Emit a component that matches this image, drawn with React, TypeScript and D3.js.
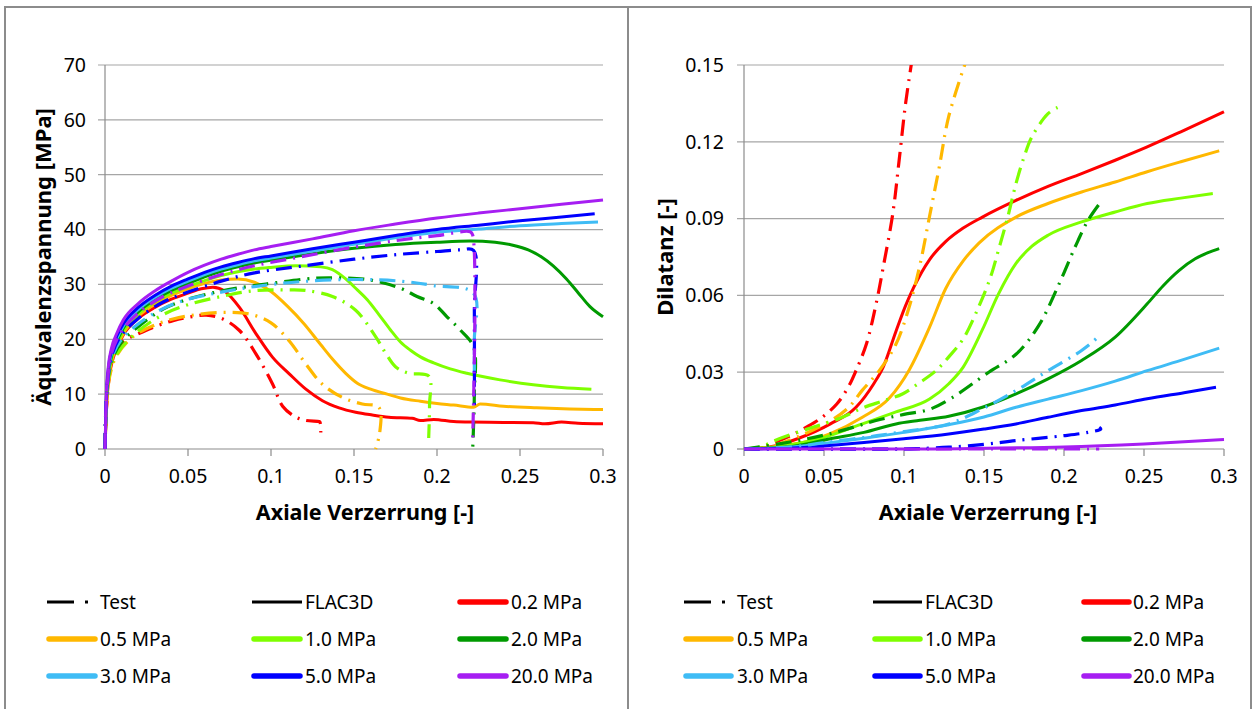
import React from "react";
import * as d3 from "d3";

type P = [number, number];

// ---------- Left chart: Äquivalenzspannung vs axial strain ----------
const stressTicks = [0, 10, 20, 30, 40, 50, 60, 70];
const strainTicks = [0, 0.05, 0.1, 0.15, 0.2, 0.25, 0.3];
const dilTicks = [0, 0.03, 0.06, 0.09, 0.12, 0.15];

const pressures = ["0.2 MPa", "0.5 MPa", "1.0 MPa", "2.0 MPa", "3.0 MPa", "5.0 MPa", "20.0 MPa"];
const colors = ["#FF0000", "#FFB800", "#7FFF00", "#009A00", "#3FBCF5", "#0000FF", "#A61EF2"];

const stressTest02: P[] = [[0,0],[0.001,8],[0.003,14],[0.006,17.5],[0.012,19.8],[0.02,21],[0.03,22.3],[0.041,23.4],[0.05,24],[0.061,24.4],[0.071,23.7],[0.081,21.6],[0.091,17.3],[0.101,11.8],[0.107,7.8],[0.115,5.8],[0.121,5.2],[0.129,5],[0.1295,4.9],[0.13,3]];
const stressTest05: P[] = [[0,0],[0.001,8],[0.003,13.5],[0.007,17],[0.017,20.5],[0.03,22.6],[0.041,23.7],[0.055,24.5],[0.071,24.9],[0.087,24.6],[0.1,23],[0.111,19.7],[0.121,15.5],[0.131,11.8],[0.143,9.4],[0.155,8.2],[0.165,7.6],[0.1655,3],[0.163,0]];
const stressTest10: P[] = [[0,0],[0.001,9],[0.004,15.5],[0.01,18.5],[0.02,21.5],[0.035,24.5],[0.05,26.3],[0.07,27.8],[0.091,28.9],[0.11,29],[0.121,28.9],[0.137,27.8],[0.151,25.3],[0.163,20.5],[0.169,17.5],[0.175,15],[0.183,13.8],[0.195,13.3],[0.1955,8],[0.195,2]];
const stressTest20: P[] = [[0,0],[0.001,10],[0.004,16],[0.01,19.5],[0.02,22.3],[0.035,25.5],[0.05,27.3],[0.07,28.8],[0.09,29.8],[0.1,30.2],[0.121,31],[0.135,31.2],[0.158,30.9],[0.178,29.3],[0.188,27.8],[0.198,26.5],[0.206,24.1],[0.214,21.7],[0.222,18.6],[0.2225,10],[0.2215,0]];
const stressTest30: P[] = [[0,0],[0.001,10],[0.004,16.5],[0.01,20],[0.02,22.8],[0.035,25.6],[0.05,27.3],[0.07,28.6],[0.09,29.6],[0.1175,30.5],[0.15,30.9],[0.178,30.6],[0.198,29.8],[0.222,28.4],[0.2225,20],[0.2225,14]];
const stressTest50: P[] = [[0,0],[0.001,10],[0.004,17],[0.01,20.8],[0.02,23.8],[0.035,26.8],[0.05,28.6],[0.07,30.6],[0.09,32.1],[0.1175,33.3],[0.15,34.6],[0.178,35.5],[0.2,36],[0.214,36.3],[0.222,36.2],[0.2225,25],[0.2225,8]];
const stressTest200: P[] = [[0,0],[0.001,10],[0.004,17.5],[0.01,21.5],[0.02,24.8],[0.035,27.8],[0.05,29.7],[0.07,31.8],[0.09,33.4],[0.1175,35],[0.15,36.8],[0.178,38.1],[0.2,38.9],[0.22,39.6],[0.2215,39],[0.2215,2]];

const stressSim02: P[] = [[0,0],[0.0008,7],[0.002,12],[0.004,15.5],[0.007,18.3],[0.011,20.8],[0.02,23.8],[0.03,25.8],[0.04,27.3],[0.05,28.4],[0.058,29.2],[0.065,29.5],[0.072,28.8],[0.081,25.8],[0.091,21],[0.101,16.7],[0.111,13.7],[0.121,10.9],[0.131,8.8],[0.141,7.5],[0.151,6.7],[0.161,6.2],[0.171,5.8],[0.185,5.6],[0.19,5.2],[0.198,5.4],[0.21,5],[0.22,4.9],[0.24,4.85],[0.258,4.8],[0.265,4.6],[0.275,4.9],[0.285,4.7],[0.3,4.6]];
const stressSim05: P[] = [[0,0],[0.0008,7.5],[0.002,12.5],[0.004,16],[0.007,18.5],[0.011,21],[0.02,24.2],[0.03,26.4],[0.04,28],[0.05,29.2],[0.06,30.2],[0.07,30.8],[0.08,31],[0.09,30.4],[0.1,28.7],[0.11,26],[0.12,22.8],[0.13,19],[0.137,16.4],[0.145,13.8],[0.152,12],[0.16,10.9],[0.17,10],[0.178,9.3],[0.19,8.7],[0.2,8.3],[0.21,8],[0.222,7.6],[0.226,8.2],[0.24,7.8],[0.26,7.5],[0.28,7.3],[0.3,7.2]];
const stressSim10: P[] = [[0,0],[0.0008,8],[0.002,13],[0.004,16.5],[0.007,19],[0.011,21.5],[0.02,24.6],[0.03,26.8],[0.04,28.4],[0.05,29.6],[0.06,30.7],[0.07,31.6],[0.08,32.3],[0.09,32.8],[0.1,33.1],[0.115,33.4],[0.13,33.2],[0.137,32.7],[0.145,31],[0.152,29],[0.158,27.2],[0.165,24.5],[0.172,21.7],[0.178,19.5],[0.184,18],[0.19,16.8],[0.198,15.7],[0.208,14.6],[0.218,13.8],[0.238,12.6],[0.258,11.7],[0.275,11.2],[0.293,10.9]];
const stressSim20: P[] = [[0,0],[0.0008,8.5],[0.002,13.5],[0.004,17],[0.007,19.5],[0.011,22],[0.02,25],[0.03,27.2],[0.04,28.9],[0.05,30.2],[0.06,31.4],[0.07,32.4],[0.08,33.2],[0.09,33.9],[0.1,34.4],[0.125,35.6],[0.15,36.6],[0.175,37.3],[0.2,37.7],[0.22,37.9],[0.235,37.7],[0.245,37.2],[0.255,36.3],[0.263,35],[0.27,33.4],[0.278,31],[0.285,28.5],[0.292,26],[0.3,24.1]];
const stressSim30: P[] = [[0,0],[0.0008,9],[0.002,14],[0.004,17.5],[0.007,20],[0.011,22.4],[0.02,25.4],[0.03,27.6],[0.04,29.3],[0.05,30.6],[0.06,31.8],[0.07,32.8],[0.08,33.6],[0.09,34.3],[0.1,34.8],[0.125,36.1],[0.15,37.3],[0.175,38.5],[0.2,39.5],[0.225,40.1],[0.25,40.7],[0.275,41.1],[0.297,41.4]];
const stressSim50: P[] = [[0,0],[0.0008,9],[0.002,14.5],[0.004,18],[0.007,20.5],[0.011,22.8],[0.02,25.8],[0.03,28],[0.04,29.7],[0.05,31],[0.06,32.2],[0.07,33.2],[0.08,34],[0.09,34.7],[0.1,35.2],[0.125,36.5],[0.15,37.7],[0.175,38.9],[0.2,40],[0.225,40.8],[0.25,41.6],[0.275,42.3],[0.295,42.9]];
const stressSim200: P[] = [[0,0],[0.0008,10],[0.002,15],[0.004,18.5],[0.007,21],[0.011,23.5],[0.02,26.5],[0.03,28.8],[0.04,30.6],[0.05,32.2],[0.06,33.5],[0.07,34.6],[0.08,35.5],[0.09,36.3],[0.1,36.9],[0.125,38.3],[0.15,39.8],[0.175,41],[0.2,42.1],[0.225,43],[0.25,43.8],[0.275,44.6],[0.3,45.4]];

// ---------- Right chart: Dilatanz vs axial strain ----------
const dilTest02: P[] = [[0,0],[0.01,0.0005],[0.022,0.0033],[0.03,0.0055],[0.039,0.0085],[0.048,0.012],[0.058,0.0176],[0.065,0.024],[0.07,0.0306],[0.0765,0.041],[0.083,0.058],[0.087,0.071],[0.093,0.092],[0.097,0.113],[0.101,0.135],[0.105,0.152]];
const dilTest05: P[] = [[0,0],[0.015,0.0008],[0.033,0.0046],[0.054,0.011],[0.065,0.016],[0.074,0.023],[0.085,0.031],[0.095,0.041],[0.103,0.055],[0.11,0.072],[0.116,0.091],[0.122,0.11],[0.128,0.13],[0.139,0.152]];
const dilTest10: P[] = [[0,0],[0.01,0.0008],[0.022,0.004],[0.043,0.0085],[0.06,0.012],[0.074,0.016],[0.088,0.019],[0.099,0.0215],[0.11,0.026],[0.12,0.0306],[0.128,0.036],[0.137,0.043],[0.147,0.056],[0.154,0.067],[0.159,0.0776],[0.165,0.091],[0.17,0.1037],[0.175,0.114],[0.18,0.122],[0.19,0.131],[0.196,0.1334]];
const dilTest20: P[] = [[0,0],[0.022,0.002],[0.054,0.006],[0.085,0.0115],[0.1,0.0135],[0.116,0.0155],[0.13,0.02],[0.153,0.03],[0.17,0.037],[0.184,0.048],[0.197,0.0646],[0.207,0.079],[0.215,0.0893],[0.223,0.0965]];
const dilTest30: P[] = [[0,0],[0.03,0.0008],[0.05,0.0025],[0.075,0.0045],[0.1,0.0068],[0.128,0.0098],[0.149,0.0157],[0.17,0.0228],[0.19,0.0306],[0.211,0.0385],[0.221,0.0437],[0.222,0.0447]];
const dilTest50: P[] = [[0,0],[0.1,0],[0.11,0.0002],[0.128,0.0007],[0.15,0.0018],[0.17,0.0033],[0.2,0.0052],[0.215,0.0065],[0.223,0.0078],[0.222,0.0085]];
const dilTest200: P[] = [[0,0],[0.222,0]];

const dilSim02: P[] = [[0,0],[0.01,0.0003],[0.02,0.0013],[0.033,0.0039],[0.054,0.0098],[0.07,0.0163],[0.081,0.0254],[0.087,0.032],[0.095,0.046],[0.101,0.056],[0.106,0.063],[0.116,0.074],[0.126,0.081],[0.137,0.0863],[0.149,0.0906],[0.17,0.0971],[0.19,0.1026],[0.211,0.1076],[0.232,0.1128],[0.252,0.118],[0.273,0.1239],[0.3,0.1317]];
const dilSim05: P[] = [[0,0],[0.02,0.001],[0.04,0.003],[0.054,0.006],[0.074,0.0124],[0.091,0.02],[0.103,0.0306],[0.116,0.0476],[0.126,0.0626],[0.137,0.0735],[0.147,0.0805],[0.17,0.0906],[0.19,0.0959],[0.211,0.1004],[0.232,0.1043],[0.252,0.1083],[0.273,0.1122],[0.297,0.1165]];
const dilSim10: P[] = [[0,0],[0.02,0.0008],[0.05,0.0045],[0.074,0.0098],[0.095,0.0145],[0.116,0.0195],[0.128,0.0255],[0.137,0.032],[0.149,0.0466],[0.159,0.0605],[0.17,0.0725],[0.18,0.0792],[0.19,0.0835],[0.211,0.0887],[0.232,0.0926],[0.252,0.0959],[0.273,0.098],[0.293,0.0998]];
const dilSim20: P[] = [[0,0],[0.03,0.001],[0.054,0.004],[0.075,0.0065],[0.095,0.0098],[0.11,0.0112],[0.128,0.0128],[0.149,0.0163],[0.17,0.0215],[0.19,0.0274],[0.211,0.0346],[0.232,0.0437],[0.252,0.0567],[0.262,0.0638],[0.272,0.0698],[0.282,0.0743],[0.29,0.0767],[0.297,0.0783]];
const dilSim30: P[] = [[0,0],[0.03,0.0008],[0.05,0.0022],[0.075,0.0042],[0.1,0.0065],[0.128,0.0095],[0.15,0.0125],[0.17,0.0163],[0.19,0.0195],[0.211,0.0228],[0.232,0.0265],[0.252,0.0306],[0.275,0.035],[0.297,0.0394]];
const dilSim50: P[] = [[0,0],[0.03,0.0004],[0.05,0.0012],[0.075,0.0025],[0.1,0.004],[0.128,0.0059],[0.15,0.0078],[0.17,0.0098],[0.19,0.0124],[0.211,0.015],[0.232,0.0172],[0.252,0.0196],[0.275,0.022],[0.295,0.0241]];
const dilSim200: P[] = [[0,0],[0.1,0],[0.15,0.0003],[0.2,0.0008],[0.25,0.002],[0.3,0.0037]];

const stressTests = [stressTest02, stressTest05, stressTest10, stressTest20, stressTest30, stressTest50, stressTest200];
const stressSims = [stressSim02, stressSim05, stressSim10, stressSim20, stressSim30, stressSim50, stressSim200];
const dilTests = [dilTest02, dilTest05, dilTest10, dilTest20, dilTest30, dilTest50, dilTest200];
const dilSims = [dilSim02, dilSim05, dilSim10, dilSim20, dilSim30, dilSim50, dilSim200];

const FONT = "'Noto Sans', 'Open Sans', sans-serif";
const DASH = "16,7,2,7";
const GRID = "#A6A6A6";
const AXIS = "#8C8C8C";

interface ChartProps {
  id: string;
  x0: number; x1: number; y0: number; y1: number;
  xMax: number; yMax: number;
  yTicks: number[];
  yFmt: (v: number) => string;
  yLabelRight: number;
  yTitle: string; yTitleX: number;
  xTitleX: number;
  tests: P[][]; sims: P[][];
  legendX: number[]; legendTextX: number[]; legendLen: number;
}

function Chart(p: ChartProps) {
  const x = d3.scaleLinear().domain([0, p.xMax]).range([p.x0, p.x1]);
  const y = d3.scaleLinear().domain([0, p.yMax]).range([p.y0, p.y1]);
  const testLine = d3.line<P>().x(d => x(d[0])).y(d => y(d[1])).curve(d3.curveCatmullRom.alpha(0.5));
  const simLine = d3.line<P>().x(d => x(d[0])).y(d => y(d[1])).curve(d3.curveMonotoneX);
  const legendItems: { label: string; kind: "test" | "sim" | "color"; color: string }[] = [
    { label: "Test", kind: "test", color: "#000" },
    { label: "FLAC3D", kind: "sim", color: "#000" },
    ...pressures.map((l, i) => ({ label: l, kind: "color" as const, color: colors[i] })),
  ];
  const rows = [602, 639, 676];
  return (
    <g>
      <defs>
        <clipPath id={p.id}>
          <rect x={p.x0 - 3} y={p.y1} width={p.x1 - p.x0 + 8} height={p.y0 - p.y1 + 3} />
        </clipPath>
      </defs>
      {p.yTicks.map(t => (
        <g key={t}>
          {t > 0 && <line x1={p.x0 - 7} x2={p.x1} y1={y(t)} y2={y(t)} stroke={GRID} strokeWidth={1.2} />}
          {t === 0 && <line x1={p.x0 - 7} x2={p.x0} y1={y(t)} y2={y(t)} stroke={AXIS} strokeWidth={1.2} />}
          <text x={p.yLabelRight} y={y(t)} dy="0.35em" textAnchor="end" fontSize={19.5} fontFamily={FONT}>{p.yFmt(t)}</text>
        </g>
      ))}
      <line x1={p.x0} x2={p.x0} y1={p.y1} y2={p.y0} stroke={AXIS} strokeWidth={1.2} />
      <line x1={p.x0} x2={p.x1} y1={p.y0} y2={p.y0} stroke={AXIS} strokeWidth={1.2} />
      {strainTicks.map(t => (
        <g key={t}>
          <line x1={x(t)} x2={x(t)} y1={p.y0} y2={p.y0 + 7} stroke={AXIS} strokeWidth={1.2} />
          <text x={x(t)} y={476} dy="0.35em" textAnchor="middle" fontSize={19.5} fontFamily={FONT}>{String(t)}</text>
        </g>
      ))}
      <text x={p.xTitleX} y={512} dy="0.35em" textAnchor="middle" fontSize={21.5} fontWeight="bold" fontFamily={FONT}>Axiale Verzerrung [-]</text>
      <text transform={`translate(${p.yTitleX},257) rotate(-90)`} dy="0.35em" textAnchor="middle" fontSize={22} fontWeight="bold" fontFamily={FONT}>{p.yTitle}</text>
      <g clipPath={`url(#${p.id})`} fill="none" strokeLinejoin="round">
        {p.sims.map((s, i) => (
          <path key={"s" + i} d={simLine(s) || ""} stroke={colors[i]} strokeWidth={3} />
        ))}
        {p.tests.map((s, i) => (
          <path key={"t" + i} d={testLine(s) || ""} stroke={colors[i]} strokeWidth={3.2} strokeDasharray={DASH} />
        ))}
      </g>
      {legendItems.map((it, i) => {
        const col = i % 3;
        const row = Math.floor(i / 3);
        const ly = rows[row];
        const lx = p.legendX[col];
        return (
          <g key={it.label}>
            {it.kind === "test" && (
              <g stroke="#000" strokeWidth={3}>
                <line x1={lx} x2={lx + 27} y1={ly} y2={ly} />
                <line x1={lx + 38} x2={lx + 41} y1={ly} y2={ly} />
              </g>
            )}
            {it.kind === "sim" && <line x1={lx} x2={lx + p.legendLen} y1={ly} y2={ly} stroke="#000" strokeWidth={3} />}
            {it.kind === "color" && (
              <line x1={lx + 2} x2={lx + p.legendLen - 2} y1={ly} y2={ly} stroke={it.color} strokeWidth={5.5} strokeLinecap="round" />
            )}
            <text x={p.legendTextX[col]} y={ly} dy="0.35em" fontSize={19} fontFamily={FONT}>{it.label}</text>
          </g>
        );
      })}
    </g>
  );
}

export default function App() {
  return (
    <svg width={1253} height={709} style={{ position: "absolute", left: 0, top: 0, background: "#fff" }}>
      <rect x={0} y={0} width={1253} height={709} fill="#fff" />
      <rect x={5} y={7} width={623} height={720} fill="none" stroke="#8C8C8C" strokeWidth={2} />
      <rect x={628} y={7} width={623} height={720} fill="none" stroke="#8C8C8C" strokeWidth={2} />
      <Chart id="clipL" x0={105} x1={603} y0={449} y1={65} xMax={0.3} yMax={70}
        yTicks={stressTicks} yFmt={v => String(v)} yLabelRight={86}
        yTitle="Äquivalenzspannung [MPa]" yTitleX={43} xTitleX={365}
        tests={stressTests} sims={stressSims}
        legendX={[47, 252, 458]} legendTextX={[100, 305, 511]} legendLen={50} />
      <Chart id="clipR" x0={744} x1={1224} y0={449} y1={65} xMax={0.3} yMax={0.15}
        yTicks={dilTicks} yFmt={v => (v === 0 ? "0" : v.toFixed(2))} yLabelRight={724}
        yTitle="Dilatanz [-]" yTitleX={665} xTitleX={988}
        tests={dilTests} sims={dilSims}
        legendX={[684, 873, 1082]} legendTextX={[737, 925, 1133]} legendLen={49} />
    </svg>
  );
}
